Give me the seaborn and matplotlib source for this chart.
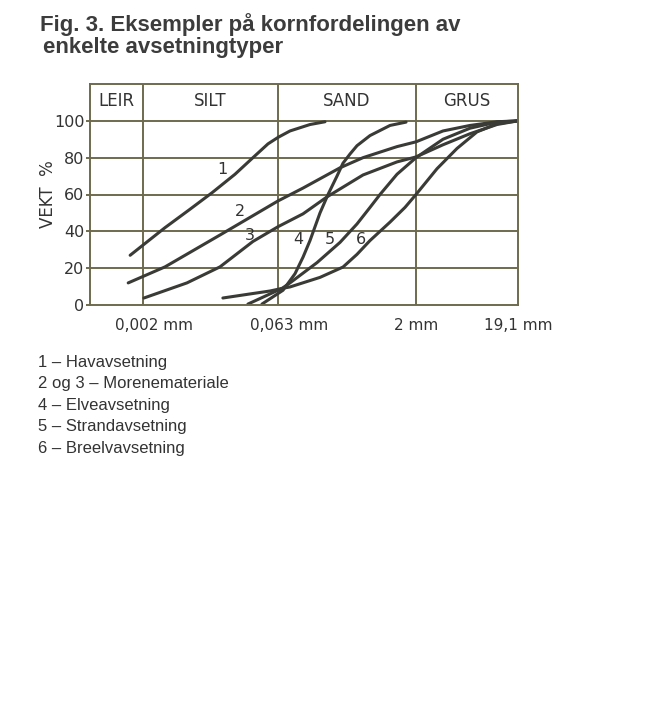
import numpy as np
import pandas as pd
import matplotlib
matplotlib.use("Agg")
import matplotlib.pyplot as plt
import seaborn as sns
from matplotlib.ticker import FixedLocator, NullLocator
from matplotlib.transforms import ScaledTranslation

# grain size (mm) and cumulative weight % for each curve
c1_mm = [0.00144, 0.00351, 0.00665, 0.0117, 0.0210, 0.0332, 0.0488, 0.063, 0.0851, 0.1405, 0.2046]
c1_pct = [27, 42, 52, 61, 71, 80, 87.5, 91, 94.5, 98, 99.5]

c2_mm = [0.00137, 0.00351, 0.0143, 0.0332, 0.063, 0.118, 0.298, 0.530, 1.243, 2.0, 3.634, 6.604, 12.0, 19.1]
c2_pct = [12, 20.7, 38, 48.5, 56.5, 63.5, 74.5, 80, 86, 88.6, 94.5, 97.5, 99.5, 100]

c3_mm = [0.00205, 0.00615, 0.0143, 0.0332, 0.063, 0.118, 0.215, 0.530, 1.243, 2.0, 3.634, 6.604, 12.0, 19.1]
c3_pct = [3.8, 12, 20.7, 34.5, 42.5, 49.5, 58.7, 70.6, 77.7, 80.4, 87, 93, 98, 100]

c4_mm = [0.0418, 0.0714, 0.0965, 0.118, 0.1405, 0.1805, 0.2206, 0.2763, 0.321, 0.383, 0.456, 0.632, 1.043, 1.558]
c4_pct = [0.5, 8, 17, 26, 35, 50, 60, 70, 77, 82, 86.5, 92, 97.5, 99.3]

c5_mm = [0.0292, 0.0696, 0.0851, 0.1674, 0.298, 0.456, 0.632, 0.8115, 1.243, 2.0, 3.634, 6.604, 12.0, 19.1]
c5_pct = [0.5, 9, 12, 23, 34, 44, 53, 60, 71, 80, 90, 96, 99.3, 100]

c6_mm = [0.0154, 0.0308, 0.0513, 0.0696, 0.0851, 0.1805, 0.321, 0.456, 0.632, 1.043, 1.519, 2.0, 3.183, 4.955, 7.713, 12.0, 19.1]
c6_pct = [3.8, 6, 7.6, 9, 9.8, 15, 20.6, 27.5, 35, 45, 53, 60, 74, 85, 94, 98.4, 100]

curve_names = ["1", "2", "3", "4", "5", "6"]
class_limits = [0.002, 0.063, 2.0]
class_names = ["LEIR", "SILT", "SAND", "GRUS"]
x_min, x_max = 0.000516, 19.1
tick_values = [0.002, 0.063, 2.0, 19.1]
tick_labels = ["0,002 mm", "0,063 mm", "2 mm", "19,1 mm"]
y_ticks = [0, 20, 40, 60, 80, 100]
legend_lines = ["1 \u2013 Havavsetning", "2 og 3 \u2013 Morenemateriale", "4 \u2013 Elveavsetning",
                "5 \u2013 Strandavsetning", "6 \u2013 Breelvavsetning"]

frames = []
for name, xs, ys in zip(curve_names,
                        [c1_mm, c2_mm, c3_mm, c4_mm, c5_mm, c6_mm],
                        [c1_pct, c2_pct, c3_pct, c4_pct, c5_pct, c6_pct]):
    frames.append(pd.DataFrame({"mm": xs, "pct": ys, "curve": name}))
df = pd.concat(frames, ignore_index=True)

# the printed axis is only roughly logarithmic: piecewise log scale through the class limits
anchor_log = np.log10([x_min, 0.002, 0.063, 2.0, 19.1])
anchor_pos = np.array([0, 53, 188, 326, 428], dtype=float)


def fwd(x):
    x = np.clip(np.asarray(x, dtype=float), 1e-9, None)
    return np.interp(np.log10(x), anchor_log, anchor_pos)


def inv(p):
    return 10 ** np.interp(np.asarray(p, dtype=float), anchor_pos, anchor_log)


sns.set_style("white")
plt.rcParams["font.family"] = ["DejaVu Sans"]

grid_col = "#6e6a4e"
line_col = "#3a3a36"
text_col = "#333333"

fig = plt.figure(figsize=(6.45, 7.12), dpi=100)
ax = fig.add_axes([90 / 645, 1 - 305 / 712, 428 / 645, 221 / 712])
ax.set_xscale("function", functions=(fwd, inv))

sns.lineplot(data=df, x="mm", y="pct", hue="curve", units="curve", estimator=None,
             sort=False, palette=[line_col] * 6, linewidth=2.2, legend=False, ax=ax)
for ln in ax.get_lines():
    ln.set_solid_joinstyle("round")
    ln.set_solid_capstyle("round")

ax.set_xlim(x_min, x_max)
ax.set_ylim(0, 120)

for y in y_ticks[1:]:
    ax.axhline(y, color=grid_col, lw=1.4, zorder=0)
for x in class_limits:
    ax.axvline(x, color=grid_col, lw=1.4, zorder=0)
for sp in ax.spines.values():
    sp.set_color(grid_col)
    sp.set_linewidth(1.4)

bounds = [x_min] + class_limits + [x_max]
for name, lo, hi in zip(class_names, bounds[:-1], bounds[1:]):
    ax.text(np.sqrt(lo * hi), 110.5, name, ha="center", va="center",
            fontsize=12, color=text_col)

ax.yaxis.set_major_locator(FixedLocator(y_ticks))
ax.set_yticklabels([str(v) for v in y_ticks])
ax.tick_params(axis="y", direction="out", length=3, width=1.4, color=grid_col,
               pad=1, labelsize=11.5, labelcolor=text_col, left=True)
ax.xaxis.set_major_locator(FixedLocator(tick_values))
ax.xaxis.set_minor_locator(NullLocator())
ax.set_xticklabels(tick_labels)
ax.tick_params(axis="x", length=0, pad=9, labelsize=11, labelcolor=text_col)
shifts = [11, 11, 0, 0]
for lab, dx in zip(ax.get_xticklabels(), shifts):
    lab.set_transform(lab.get_transform() + ScaledTranslation(dx / 100, 0, fig.dpi_scale_trans))

ax.set_xlabel("")
ax.set_ylabel("VEKT  %", fontsize=12, color=text_col)
ax.yaxis.set_label_coords(-33 / 428, 0.5)

# curve numbers
label_pos = [(0.01505, 73.4), (0.0238, 50.5), (0.0308, 37.5),
             (0.104, 35.3), (0.232, 35.3), (0.504, 35.3)]
for name, (lx, ly) in zip(curve_names, label_pos):
    ax.text(lx, ly, name, ha="center", va="center", fontsize=11.5, color=text_col)

title_font = ["Liberation Sans", "DejaVu Sans"]
fig.text(40 / 645, 1 - 25 / 712, "Fig. 3. Eksempler p\u00e5 kornfordelingen av",
         fontsize=16, fontweight="bold", color="#3c3c3c", va="center", family=title_font)
fig.text(43 / 645, 1 - 48 / 712, "enkelte avsetningtyper",
         fontsize=16, fontweight="bold", color="#3c3c3c", va="center", family=title_font)

for i, line in enumerate(legend_lines):
    fig.text(38 / 645, 1 - (362 + i * 21.6) / 712, line, fontsize=12,
             color=text_col, va="center", family=["Liberation Sans", "DejaVu Sans"])

fig.savefig("out.png", dpi=100, facecolor="white")
